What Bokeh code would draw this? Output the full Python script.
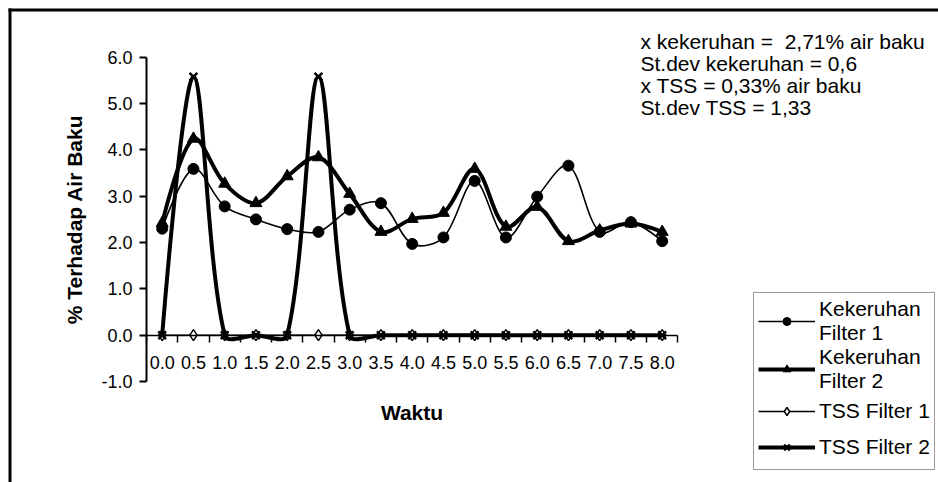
import numpy as np
from bokeh.plotting import figure
from bokeh.models import (Range1d, FixedTicker, PrintfTickFormatter, Legend,
                          LegendItem, Label, BoxAnnotation, ColumnDataSource)
from bokeh.embed import file_html
from bokeh.resources import INLINE

# ---------------- data ----------------
WAKTU = [0.0, 0.5, 1.0, 1.5, 2.0, 2.5, 3.0, 3.5, 4.0, 4.5, 5.0, 5.5, 6.0, 6.5, 7.0, 7.5, 8.0]
KEKERUHAN_F1 = [2.30, 3.59, 2.78, 2.50, 2.29, 2.23, 2.71, 2.85, 1.97, 2.11, 3.33, 2.11, 2.99, 3.66, 2.23, 2.44, 2.03]
KEKERUHAN_F2 = [2.42, 4.24, 3.27, 2.85, 3.43, 3.84, 3.05, 2.23, 2.51, 2.64, 3.59, 2.34, 2.77, 2.03, 2.26, 2.41, 2.23]
TSS_F1 = [0.0, 0.0, 0.0, 0.0, 0.0, 0.0, 0.0, 0.0, 0.0, 0.0, 0.0, 0.0, 0.0, 0.0, 0.0, 0.0, 0.0]
TSS_F2 = [0.0, 5.58, 0.0, 0.0, 0.0, 5.58, 0.0, 0.0, 0.0, 0.0, 0.0, 0.0, 0.0, 0.0, 0.0, 0.0, 0.0]
Y_TICKS = [-1.0, 0.0, 1.0, 2.0, 3.0, 4.0, 5.0, 6.0]
LEGEND_LABELS = ["Kekeruhan\nFilter 1", "Kekeruhan\nFilter 2", "TSS Filter 1", "TSS Filter 2"]
STATS_LINES = ["x kekeruhan = \u00a02,71% air baku", "St.dev kekeruhan = 0,6",
               "x TSS = 0,33% air baku", "St.dev TSS = 1,33"]
X_TITLE = "Waktu"
Y_TITLE = "% Terhadap Air Baku"

FONT = "Liberation Sans"
W, H = 938, 482
X_START, X_END = -2.587, 12.421
Y_START, Y_END = -3.179, 7.224
SX = W / (X_END - X_START)   # px per x unit
SY = H / (Y_END - Y_START)   # px per y unit
HALF = (WAKTU[1] - WAKTU[0]) / 2


def smooth_segments(xs, ys):
    """Excel-like smoothed line: cubic Bezier control points from neighbours."""
    px = np.asarray(xs, float) * SX
    py = np.asarray(ys, float) * SY
    n = len(px)
    d = np.hypot(np.diff(px), np.diff(py))
    cout_x, cout_y = px.copy(), py.copy()
    cin_x, cin_y = px.copy(), py.copy()
    for i in range(1, n - 1):
        tx, ty = px[i + 1] - px[i - 1], py[i + 1] - py[i - 1]
        s = d[i - 1] + d[i]
        if s == 0:
            continue
        cout_x[i] = px[i] + tx * d[i] / s / 3
        cout_y[i] = py[i] + ty * d[i] / s / 3
        cin_x[i] = px[i] - tx * d[i - 1] / s / 3
        cin_y[i] = py[i] - ty * d[i - 1] / s / 3
    return dict(
        x0=px[:-1] / SX, y0=py[:-1] / SY, x1=px[1:] / SX, y1=py[1:] / SY,
        cx0=cout_x[:-1] / SX, cy0=cout_y[:-1] / SY,
        cx1=cin_x[1:] / SX, cy1=cin_y[1:] / SY,
    )


p = figure(width=W, height=H, x_range=Range1d(X_START, X_END), y_range=Range1d(Y_START, Y_END),
           output_backend="svg", toolbar_location=None, min_border=0)
p.outline_line_color = None
p.xgrid.visible = False
p.ygrid.visible = False
p.background_fill_color = "white"
p.border_fill_color = "white"

# chart-area border (only its top and left edges fall inside the picture)
p.add_layout(BoxAnnotation(left=X_START + 8 / SX, right=X_END,
                           top=Y_END - 8 / SY, bottom=Y_END - 11 / SY,
                           fill_color="black", fill_alpha=1.0, line_color=None))
p.add_layout(BoxAnnotation(left=X_START + 8 / SX, right=X_START + 11 / SX,
                           top=Y_END - 8 / SY, bottom=Y_START,
                           fill_color="black", fill_alpha=1.0, line_color=None))

series = [
    (KEKERUHAN_F1, 1.6, dict(marker="circle", size=11, fill_color="black", line_color="black")),
    (KEKERUHAN_F2, 4.0, dict(marker="triangle", size=12, fill_color="black", line_color="black")),
    (TSS_F1, 1.6, dict(marker="diamond", size=11, fill_color="white", line_color="black", line_width=1.5)),
    (TSS_F2, 4.0, dict(marker="x", size=11, line_color="black", line_width=2.5)),
]

items = []
for (vals, lw, mk), label in zip(series, LEGEND_LABELS):
    src = ColumnDataSource(smooth_segments(WAKTU, vals))
    b = p.bezier(x0="x0", y0="y0", x1="x1", y1="y1", cx0="cx0", cy0="cy0", cx1="cx1", cy1="cy1",
                 source=src, line_color="black", line_width=lw)
    s = p.scatter(WAKTU, vals, **mk)
    items.append(LegendItem(label=label, renderers=[b, s]))

# axes crossing at 0 / left of first category
xa = p.xaxis[0]
xa.fixed_location = 0
xa.bounds = (WAKTU[0] - HALF, WAKTU[-1] + HALF)
xa.ticker = FixedTicker(ticks=WAKTU, minor_ticks=[w - HALF for w in WAKTU] + [WAKTU[-1] + HALF])
xa.formatter = PrintfTickFormatter(format="%.1f")
xa.axis_line_width = 1.5
xa.major_tick_line_color = None
xa.major_tick_in = 0
xa.major_tick_out = 0
xa.minor_tick_in = 0
xa.minor_tick_out = 7
xa.minor_tick_line_width = 1.5
xa.minor_tick_line_color = "black"
xa.major_label_standoff = 14
xa.major_label_text_font = FONT
xa.major_label_text_font_size = "18px"
xa.major_label_text_color = "black"
xa.axis_label = X_TITLE
xa.axis_label_text_font = FONT
xa.axis_label_text_font_size = "21px"
xa.axis_label_text_font_style = "bold"
xa.axis_label_text_color = "black"
xa.axis_label_standoff = 28

ya = p.yaxis[0]
ya.fixed_location = WAKTU[0] - HALF
ya.bounds = (Y_TICKS[0], Y_TICKS[-1])
ya.ticker = FixedTicker(ticks=Y_TICKS)
ya.formatter = PrintfTickFormatter(format="%.1f")
ya.axis_line_width = 2
ya.major_tick_in = 0
ya.major_tick_out = 7
ya.major_tick_line_width = 2
ya.minor_tick_line_color = None
ya.major_label_standoff = 7
ya.major_label_text_font = FONT
ya.major_label_text_font_size = "18px"
ya.major_label_text_color = "black"
ya.axis_label = Y_TITLE
ya.axis_label_text_font = FONT
ya.axis_label_text_font_size = "21px"
ya.axis_label_text_font_style = "bold"
ya.axis_label_text_color = "black"
ya.axis_label_standoff = 12

# statistics text
for i, line in enumerate(STATS_LINES):
    p.add_layout(Label(x=640, y=H - 41 - 22 * i, x_units="screen", y_units="screen", text=line,
                       text_font=FONT, text_font_size="21px", text_baseline="middle",
                       text_color="black"))

legend = Legend(items=items, location=(753, 12), orientation="vertical",
                label_text_font=FONT, label_text_font_size="21px", label_text_color="black",
                label_text_line_height=1.0, label_height=36, label_standoff=4,
                glyph_width=57, glyph_height=20, spacing=0, padding=4, margin=0,
                border_line_color="#333333", border_line_width=1.5,
                background_fill_color="white", background_fill_alpha=1.0)
p.add_layout(legend, "center")

open("out.html", "w").write(file_html(p, INLINE))
